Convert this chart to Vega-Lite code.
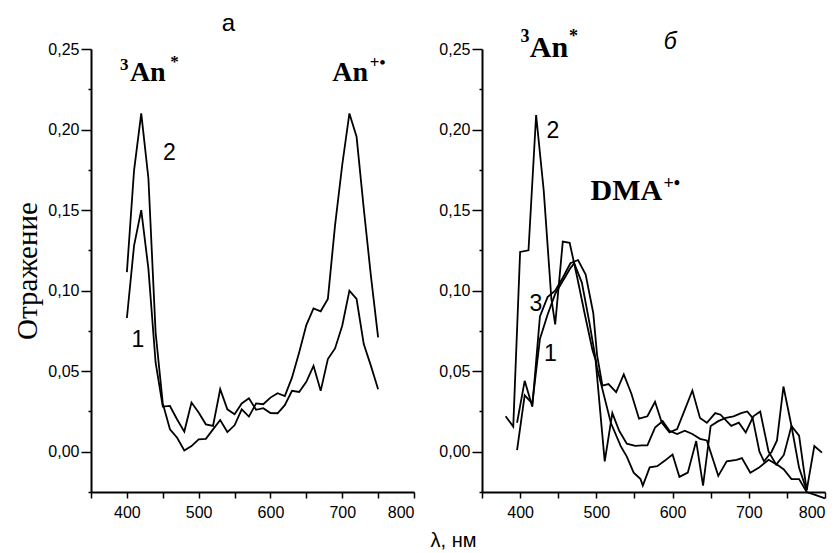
{
"$schema": "https://vega.github.io/schema/vega-lite/v6.json",
"padding": {"left": 13, "top": 12, "right": 0, "bottom": 0},
"spacing": 68,
"bounds": "flush",
"config": {
  "view": {"stroke": null},
  "font": "Liberation Sans",
  "axis": {"domainColor": "black", "domainWidth": 2, "tickColor": "black", "tickWidth": 1.5, "labelColor": "black", "labelFont": "Liberation Sans", "labelFontSize": 16, "grid": false}
},
"datasets": {
  "left": [
    {"curve": "1", "nm": 400, "v": 0.083}, {"curve": "1", "nm": 410, "v": 0.128}, {"curve": "1", "nm": 420, "v": 0.150}, {"curve": "1", "nm": 430, "v": 0.1135}, {"curve": "1", "nm": 440, "v": 0.0554}, {"curve": "1", "nm": 450, "v": 0.028}, {"curve": "1", "nm": 460, "v": 0.0284}, {"curve": "1", "nm": 470, "v": 0.020}, {"curve": "1", "nm": 480, "v": 0.0125}, {"curve": "1", "nm": 490, "v": 0.0305}, {"curve": "1", "nm": 500, "v": 0.0243}, {"curve": "1", "nm": 510, "v": 0.017}, {"curve": "1", "nm": 520, "v": 0.016}, {"curve": "1", "nm": 530, "v": 0.0388}, {"curve": "1", "nm": 540, "v": 0.0263}, {"curve": "1", "nm": 550, "v": 0.0232}, {"curve": "1", "nm": 560, "v": 0.030}, {"curve": "1", "nm": 570, "v": 0.0332}, {"curve": "1", "nm": 580, "v": 0.026}, {"curve": "1", "nm": 590, "v": 0.027}, {"curve": "1", "nm": 600, "v": 0.024}, {"curve": "1", "nm": 610, "v": 0.0239}, {"curve": "1", "nm": 620, "v": 0.0289}, {"curve": "1", "nm": 630, "v": 0.0378}, {"curve": "1", "nm": 640, "v": 0.0371}, {"curve": "1", "nm": 650, "v": 0.0434}, {"curve": "1", "nm": 660, "v": 0.0533}, {"curve": "1", "nm": 670, "v": 0.0378}, {"curve": "1", "nm": 680, "v": 0.0575}, {"curve": "1", "nm": 690, "v": 0.0641}, {"curve": "1", "nm": 700, "v": 0.0782}, {"curve": "1", "nm": 710, "v": 0.100}, {"curve": "1", "nm": 720, "v": 0.0948}, {"curve": "1", "nm": 730, "v": 0.0668}, {"curve": "1", "nm": 740, "v": 0.0533}, {"curve": "1", "nm": 750, "v": 0.0388},
    {"curve": "2", "nm": 400, "v": 0.1115}, {"curve": "2", "nm": 410, "v": 0.1747}, {"curve": "2", "nm": 420, "v": 0.210}, {"curve": "2", "nm": 430, "v": 0.1696}, {"curve": "2", "nm": 440, "v": 0.074}, {"curve": "2", "nm": 450, "v": 0.030}, {"curve": "2", "nm": 460, "v": 0.0139}, {"curve": "2", "nm": 470, "v": 0.0087}, {"curve": "2", "nm": 480, "v": 0.0008}, {"curve": "2", "nm": 490, "v": 0.0035}, {"curve": "2", "nm": 500, "v": 0.0077}, {"curve": "2", "nm": 510, "v": 0.008}, {"curve": "2", "nm": 520, "v": 0.0139}, {"curve": "2", "nm": 530, "v": 0.0197}, {"curve": "2", "nm": 540, "v": 0.0122}, {"curve": "2", "nm": 550, "v": 0.0164}, {"curve": "2", "nm": 560, "v": 0.0263}, {"curve": "2", "nm": 570, "v": 0.0218}, {"curve": "2", "nm": 580, "v": 0.030}, {"curve": "2", "nm": 590, "v": 0.0295}, {"curve": "2", "nm": 600, "v": 0.0336}, {"curve": "2", "nm": 610, "v": 0.0363}, {"curve": "2", "nm": 620, "v": 0.0346}, {"curve": "2", "nm": 630, "v": 0.046}, {"curve": "2", "nm": 640, "v": 0.0616}, {"curve": "2", "nm": 650, "v": 0.0786}, {"curve": "2", "nm": 660, "v": 0.089}, {"curve": "2", "nm": 670, "v": 0.0872}, {"curve": "2", "nm": 680, "v": 0.0948}, {"curve": "2", "nm": 690, "v": 0.1405}, {"curve": "2", "nm": 700, "v": 0.178}, {"curve": "2", "nm": 710, "v": 0.210}, {"curve": "2", "nm": 720, "v": 0.1955}, {"curve": "2", "nm": 730, "v": 0.151}, {"curve": "2", "nm": 740, "v": 0.109}, {"curve": "2", "nm": 750, "v": 0.071}
  ],
  "right": [
    {"curve": "2", "nm": 381, "v": 0.022}, {"curve": "2", "nm": 391, "v": 0.0156}, {"curve": "2", "nm": 400, "v": 0.124}, {"curve": "2", "nm": 411, "v": 0.125}, {"curve": "2", "nm": 421, "v": 0.209}, {"curve": "2", "nm": 431, "v": 0.162}, {"curve": "2", "nm": 441, "v": 0.095}, {"curve": "2", "nm": 446, "v": 0.079}, {"curve": "2", "nm": 456, "v": 0.1305}, {"curve": "2", "nm": 465, "v": 0.1297}, {"curve": "2", "nm": 475, "v": 0.108}, {"curve": "2", "nm": 485, "v": 0.085}, {"curve": "2", "nm": 495, "v": 0.063}, {"curve": "2", "nm": 499, "v": 0.057}, {"curve": "2", "nm": 511, "v": -0.006}, {"curve": "2", "nm": 521, "v": 0.024}, {"curve": "2", "nm": 530, "v": 0.013}, {"curve": "2", "nm": 540, "v": 0.005}, {"curve": "2", "nm": 551, "v": 0.0036}, {"curve": "2", "nm": 560, "v": 0.004}, {"curve": "2", "nm": 567, "v": 0.004}, {"curve": "2", "nm": 577, "v": 0.015}, {"curve": "2", "nm": 587, "v": 0.019}, {"curve": "2", "nm": 596, "v": 0.013}, {"curve": "2", "nm": 606, "v": 0.011}, {"curve": "2", "nm": 616, "v": 0.013}, {"curve": "2", "nm": 626, "v": 0.011}, {"curve": "2", "nm": 636, "v": 0.008}, {"curve": "2", "nm": 645, "v": 0.007}, {"curve": "2", "nm": 660, "v": -0.015}, {"curve": "2", "nm": 671, "v": -0.006}, {"curve": "2", "nm": 684, "v": -0.005}, {"curve": "2", "nm": 691, "v": -0.004}, {"curve": "2", "nm": 702, "v": -0.013}, {"curve": "2", "nm": 713, "v": -0.010}, {"curve": "2", "nm": 726, "v": -0.005}, {"curve": "2", "nm": 737, "v": -0.008}, {"curve": "2", "nm": 746, "v": -0.011}, {"curve": "2", "nm": 756, "v": -0.017}, {"curve": "2", "nm": 766, "v": -0.017}, {"curve": "2", "nm": 776, "v": -0.025}, {"curve": "2", "nm": 788, "v": -0.027}, {"curve": "2", "nm": 800, "v": -0.029},
    {"curve": "3", "nm": 396, "v": 0.018}, {"curve": "3", "nm": 406, "v": 0.044}, {"curve": "3", "nm": 416, "v": 0.028}, {"curve": "3", "nm": 426, "v": 0.084}, {"curve": "3", "nm": 436, "v": 0.096}, {"curve": "3", "nm": 446, "v": 0.100}, {"curve": "3", "nm": 456, "v": 0.108}, {"curve": "3", "nm": 466, "v": 0.117}, {"curve": "3", "nm": 476, "v": 0.119}, {"curve": "3", "nm": 486, "v": 0.110}, {"curve": "3", "nm": 496, "v": 0.086}, {"curve": "3", "nm": 501, "v": 0.060}, {"curve": "3", "nm": 508, "v": 0.041}, {"curve": "3", "nm": 516, "v": 0.042}, {"curve": "3", "nm": 526, "v": 0.037}, {"curve": "3", "nm": 536, "v": 0.048}, {"curve": "3", "nm": 546, "v": 0.036}, {"curve": "3", "nm": 556, "v": 0.0205}, {"curve": "3", "nm": 567, "v": 0.022}, {"curve": "3", "nm": 577, "v": 0.031}, {"curve": "3", "nm": 586, "v": 0.018}, {"curve": "3", "nm": 596, "v": 0.012}, {"curve": "3", "nm": 606, "v": 0.014}, {"curve": "3", "nm": 616, "v": 0.026}, {"curve": "3", "nm": 626, "v": 0.038}, {"curve": "3", "nm": 636, "v": 0.021}, {"curve": "3", "nm": 645, "v": 0.018}, {"curve": "3", "nm": 656, "v": 0.024}, {"curve": "3", "nm": 663, "v": 0.023}, {"curve": "3", "nm": 677, "v": 0.016}, {"curve": "3", "nm": 687, "v": 0.018}, {"curve": "3", "nm": 696, "v": 0.012}, {"curve": "3", "nm": 706, "v": 0.022}, {"curve": "3", "nm": 715, "v": 0.025}, {"curve": "3", "nm": 726, "v": 0.0}, {"curve": "3", "nm": 736, "v": -0.008}, {"curve": "3", "nm": 746, "v": -0.002}, {"curve": "3", "nm": 756, "v": 0.016}, {"curve": "3", "nm": 766, "v": 0.010}, {"curve": "3", "nm": 776, "v": -0.024}, {"curve": "3", "nm": 786, "v": 0.0035}, {"curve": "3", "nm": 796, "v": -0.0006},
    {"curve": "1", "nm": 396, "v": 0.001}, {"curve": "1", "nm": 406, "v": 0.035}, {"curve": "1", "nm": 416, "v": 0.030}, {"curve": "1", "nm": 426, "v": 0.070}, {"curve": "1", "nm": 436, "v": 0.085}, {"curve": "1", "nm": 446, "v": 0.098}, {"curve": "1", "nm": 456, "v": 0.106}, {"curve": "1", "nm": 466, "v": 0.114}, {"curve": "1", "nm": 471, "v": 0.117}, {"curve": "1", "nm": 481, "v": 0.105}, {"curve": "1", "nm": 491, "v": 0.080}, {"curve": "1", "nm": 501, "v": 0.052}, {"curve": "1", "nm": 510, "v": 0.035}, {"curve": "1", "nm": 519, "v": 0.018}, {"curve": "1", "nm": 532, "v": 0.0035}, {"curve": "1", "nm": 540, "v": -0.003}, {"curve": "1", "nm": 549, "v": -0.013}, {"curve": "1", "nm": 558, "v": -0.017}, {"curve": "1", "nm": 561, "v": -0.021}, {"curve": "1", "nm": 570, "v": -0.0097}, {"curve": "1", "nm": 580, "v": -0.009}, {"curve": "1", "nm": 590, "v": -0.0055}, {"curve": "1", "nm": 600, "v": -0.0017}, {"curve": "1", "nm": 609, "v": -0.0156}, {"curve": "1", "nm": 620, "v": -0.013}, {"curve": "1", "nm": 631, "v": 0.0066}, {"curve": "1", "nm": 640, "v": -0.021}, {"curve": "1", "nm": 650, "v": 0.016}, {"curve": "1", "nm": 660, "v": 0.019}, {"curve": "1", "nm": 670, "v": 0.021}, {"curve": "1", "nm": 680, "v": 0.022}, {"curve": "1", "nm": 690, "v": 0.024}, {"curve": "1", "nm": 698, "v": 0.025}, {"curve": "1", "nm": 705, "v": 0.021}, {"curve": "1", "nm": 714, "v": 0.0}, {"curve": "1", "nm": 720, "v": -0.006}, {"curve": "1", "nm": 730, "v": 0.0}, {"curve": "1", "nm": 737, "v": 0.007}, {"curve": "1", "nm": 745.5, "v": 0.0405}, {"curve": "1", "nm": 756, "v": 0.016}, {"curve": "1", "nm": 766, "v": -0.010}, {"curve": "1", "nm": 776, "v": -0.024}
  ],
  "ltext": [
    {"kind": "big", "t": "An", "nm": 404.2, "v": 0.230},
    {"kind": "sup", "t": "3", "nm": 390.5, "v": 0.2368},
    {"kind": "sup", "t": "*", "nm": 460.5, "v": 0.239},
    {"kind": "big", "t": "An", "nm": 686, "v": 0.230},
    {"kind": "sup", "t": "+•", "nm": 738.5, "v": 0.238},
    {"kind": "num", "t": "2", "nm": 459.3, "v": 0.1808},
    {"kind": "num", "t": "1", "nm": 415.3, "v": 0.065},
    {"kind": "panel", "t": "а", "nm": 541.6, "v": 0.2611}
  ],
  "rtext": [
    {"kind": "big", "t": "An", "nm": 412.6, "v": 0.2448},
    {"kind": "sup", "t": "3", "nm": 400.5, "v": 0.2542},
    {"kind": "sup", "t": "*", "nm": 464, "v": 0.2545},
    {"kind": "big", "t": "DMA", "nm": 492.4, "v": 0.156},
    {"kind": "sup", "t": "+•", "nm": 588, "v": 0.1633},
    {"kind": "num", "t": "2", "nm": 442.9, "v": 0.195},
    {"kind": "num", "t": "3", "nm": 420.7, "v": 0.0874},
    {"kind": "num", "t": "1", "nm": 439.7, "v": 0.0562},
    {"kind": "panelit", "t": "б", "nm": 596.9, "v": 0.2499},
    {"kind": "xtitle", "t": "λ, нм", "nm": 312.7, "v": -0.0592}
  ]
},
"hconcat": [
  {
    "width": 323, "height": 443,
    "encoding": {
      "x": {"field": "nm", "type": "quantitative", "scale": {"domain": [350, 800], "nice": false, "zero": false},
            "axis": {"title": null, "values": [350, 400, 450, 500, 550, 600, 650, 700, 750, 800], "labelExpr": "datum.value % 100 == 0 ? datum.label : ''", "tickSize": 6, "labelPadding": 6}},
      "y": {"field": "v", "type": "quantitative", "scale": {"domain": [-0.025, 0.25], "nice": false, "zero": false},
            "axis": {"title": "Отражение", "titleFont": "Liberation Serif", "titleFontSize": 29, "titleFontWeight": "normal", "titleColor": "black", "titlePadding": 5,
                     "values": [-0.025, 0, 0.025, 0.05, 0.075, 0.1, 0.125, 0.15, 0.175, 0.2, 0.225, 0.25],
                     "labelExpr": "abs(round(datum.value*1000) % 50) == 0 ? replace(format(datum.value, '.2f'), '.', ',') : ''",
                     "tickSize": {"condition": {"test": "abs(round(datum.value*1000) % 50) == 0", "value": 10}, "value": 3}, "labelPadding": 2}}
    },
    "layer": [
      {"data": {"name": "left"}, "mark": {"type": "line", "color": "black", "strokeWidth": 1.8}, "encoding": {"detail": {"field": "curve"}}},
      {"data": {"name": "ltext"}, "transform": [{"filter": "datum.kind == 'big'"}], "mark": {"type": "text", "font": "Liberation Serif", "fontWeight": "bold", "fontSize": 28, "align": "left", "baseline": "alphabetic", "color": "black"}, "encoding": {"text": {"field": "t"}}},
      {"data": {"name": "ltext"}, "transform": [{"filter": "datum.kind == 'sup'"}], "mark": {"type": "text", "font": "Liberation Serif", "fontWeight": "bold", "fontSize": 17, "align": "left", "baseline": "alphabetic", "color": "black"}, "encoding": {"text": {"field": "t"}}},
      {"data": {"name": "ltext"}, "transform": [{"filter": "datum.kind == 'num'"}], "mark": {"type": "text", "font": "Liberation Sans", "fontSize": 23, "align": "center", "baseline": "alphabetic", "color": "black"}, "encoding": {"text": {"field": "t"}}},
      {"data": {"name": "ltext"}, "transform": [{"filter": "datum.kind == 'panel'"}], "mark": {"type": "text", "font": "Liberation Sans", "fontSize": 24, "align": "center", "baseline": "alphabetic", "color": "black"}, "encoding": {"text": {"field": "t"}}}
    ]
  },
  {
    "width": 343, "height": 443,
    "encoding": {
      "x": {"field": "nm", "type": "quantitative", "scale": {"domain": [350, 800], "nice": false, "zero": false},
            "axis": {"title": null, "values": [350, 400, 450, 500, 550, 600, 650, 700, 750, 800], "labelExpr": "datum.value % 100 == 0 ? datum.label : ''", "tickSize": 6, "labelPadding": 6}},
      "y": {"field": "v", "type": "quantitative", "scale": {"domain": [-0.025, 0.25], "nice": false, "zero": false},
            "axis": {"title": null,
                     "values": [-0.025, 0, 0.025, 0.05, 0.075, 0.1, 0.125, 0.15, 0.175, 0.2, 0.225, 0.25],
                     "labelExpr": "abs(round(datum.value*1000) % 50) == 0 ? replace(format(datum.value, '.2f'), '.', ',') : ''",
                     "tickSize": {"condition": {"test": "abs(round(datum.value*1000) % 50) == 0", "value": 10}, "value": 3}, "labelPadding": 2}}
    },
    "layer": [
      {"data": {"name": "right"}, "mark": {"type": "line", "color": "black", "strokeWidth": 1.8}, "encoding": {"detail": {"field": "curve"}}},
      {"data": {"name": "rtext"}, "transform": [{"filter": "datum.kind == 'big'"}], "mark": {"type": "text", "font": "Liberation Serif", "fontWeight": "bold", "fontSize": 30, "align": "left", "baseline": "alphabetic", "color": "black"}, "encoding": {"text": {"field": "t"}}},
      {"data": {"name": "rtext"}, "transform": [{"filter": "datum.kind == 'sup'"}], "mark": {"type": "text", "font": "Liberation Serif", "fontWeight": "bold", "fontSize": 18, "align": "left", "baseline": "alphabetic", "color": "black"}, "encoding": {"text": {"field": "t"}}},
      {"data": {"name": "rtext"}, "transform": [{"filter": "datum.kind == 'num'"}], "mark": {"type": "text", "font": "Liberation Sans", "fontSize": 23, "align": "center", "baseline": "alphabetic", "color": "black"}, "encoding": {"text": {"field": "t"}}},
      {"data": {"name": "rtext"}, "transform": [{"filter": "datum.kind == 'panelit'"}], "mark": {"type": "text", "font": "Liberation Sans", "fontSize": 23, "fontStyle": "italic", "align": "center", "baseline": "alphabetic", "color": "black"}, "encoding": {"text": {"field": "t"}}},
      {"data": {"name": "rtext"}, "transform": [{"filter": "datum.kind == 'xtitle'"}], "mark": {"type": "text", "font": "Liberation Sans", "fontSize": 20, "align": "center", "baseline": "alphabetic", "color": "black"}, "encoding": {"text": {"field": "t"}}}
    ]
  }
]
}
